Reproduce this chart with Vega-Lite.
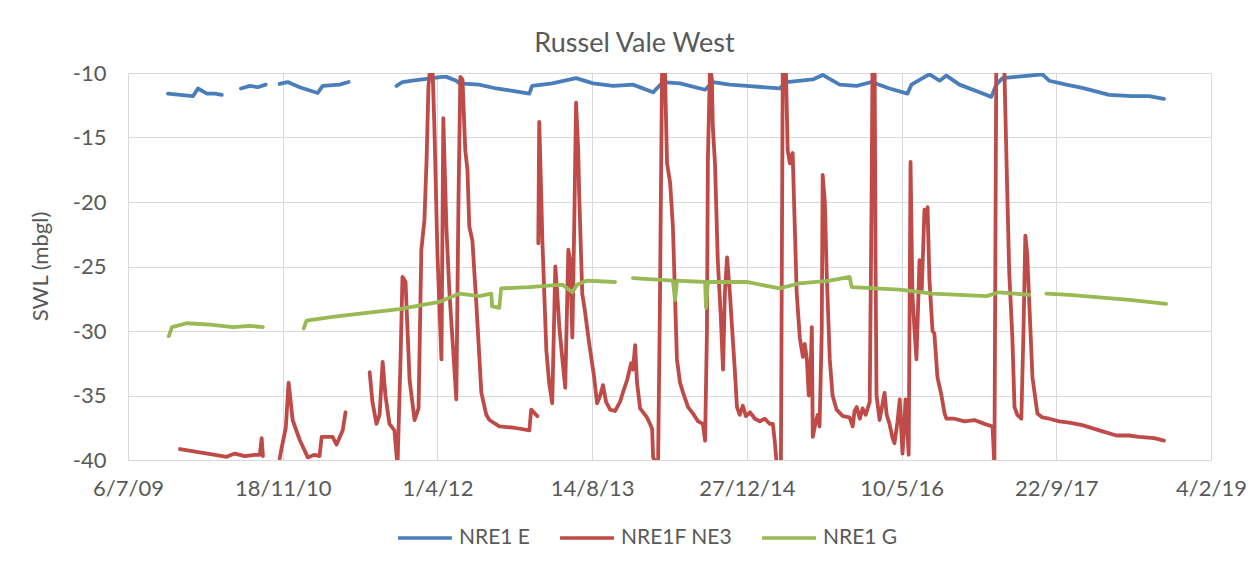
{
  "$schema": "https://vega.github.io/schema/vega-lite/v6.json",
  "width": 1083,
  "height": 387,
  "autosize": {"type": "none"},
  "padding": {"left": 128, "top": 73, "right": 43, "bottom": 117},
  "background": "white",
  "title": {"text": "Russel Vale West", "fontSize": 27, "fontWeight": "normal", "color": "#595959", "font": "Lato", "offset": 4, "dx": -35},
  "config": {
    "font": "Lato",
    "view": {"stroke": null},
    "axis": {"gridColor": "#D9D9D9", "gridWidth": 1, "domain": false, "ticks": false, "labelColor": "#595959", "labelFontSize": 22, "labelFont": "Lato", "titleFont": "Lato"}
  },
  "data": {"values": [
    {"date": "2009-11-12", "series": "NRE1 E", "swl": -11.6},
    {"date": "2009-12-21", "series": "NRE1 E", "swl": -11.7},
    {"date": "2010-02-01", "series": "NRE1 E", "swl": -11.8},
    {"date": "2010-02-17", "series": "NRE1 E", "swl": -11.2},
    {"date": "2010-03-18", "series": "NRE1 E", "swl": -11.6},
    {"date": "2010-04-13", "series": "NRE1 E", "swl": -11.6},
    {"date": "2010-05-05", "series": "NRE1 E", "swl": -11.7},
    {"date": "2010-06-01", "series": "NRE1 E", "swl": null},
    {"date": "2010-07-06", "series": "NRE1 E", "swl": -11.2},
    {"date": "2010-08-04", "series": "NRE1 E", "swl": -11.0},
    {"date": "2010-08-29", "series": "NRE1 E", "swl": -11.1},
    {"date": "2010-09-24", "series": "NRE1 E", "swl": -10.9},
    {"date": "2010-10-15", "series": "NRE1 E", "swl": null},
    {"date": "2010-11-08", "series": "NRE1 E", "swl": -10.85},
    {"date": "2010-12-04", "series": "NRE1 E", "swl": -10.7},
    {"date": "2011-01-12", "series": "NRE1 E", "swl": -11.1},
    {"date": "2011-03-11", "series": "NRE1 E", "swl": -11.55},
    {"date": "2011-03-27", "series": "NRE1 E", "swl": -11.0},
    {"date": "2011-05-21", "series": "NRE1 E", "swl": -10.9},
    {"date": "2011-06-19", "series": "NRE1 E", "swl": -10.7},
    {"date": "2011-09-01", "series": "NRE1 E", "swl": null},
    {"date": "2011-11-21", "series": "NRE1 E", "swl": -11.0},
    {"date": "2011-12-10", "series": "NRE1 E", "swl": -10.7},
    {"date": "2012-01-11", "series": "NRE1 E", "swl": -10.6},
    {"date": "2012-02-26", "series": "NRE1 E", "swl": -10.45},
    {"date": "2012-04-17", "series": "NRE1 E", "swl": -10.3},
    {"date": "2012-04-30", "series": "NRE1 E", "swl": -10.3},
    {"date": "2012-06-01", "series": "NRE1 E", "swl": -10.6},
    {"date": "2012-06-11", "series": "NRE1 E", "swl": -10.8},
    {"date": "2012-08-14", "series": "NRE1 E", "swl": -10.9},
    {"date": "2012-10-08", "series": "NRE1 E", "swl": -11.2},
    {"date": "2012-12-05", "series": "NRE1 E", "swl": -11.4},
    {"date": "2013-01-23", "series": "NRE1 E", "swl": -11.6},
    {"date": "2013-02-01", "series": "NRE1 E", "swl": -11.0},
    {"date": "2013-04-07", "series": "NRE1 E", "swl": -10.8},
    {"date": "2013-06-23", "series": "NRE1 E", "swl": -10.4},
    {"date": "2013-08-17", "series": "NRE1 E", "swl": -10.8},
    {"date": "2013-10-21", "series": "NRE1 E", "swl": -11.0},
    {"date": "2013-12-24", "series": "NRE1 E", "swl": -10.9},
    {"date": "2014-02-27", "series": "NRE1 E", "swl": -11.5},
    {"date": "2014-03-31", "series": "NRE1 E", "swl": -10.7},
    {"date": "2014-05-25", "series": "NRE1 E", "swl": -10.8},
    {"date": "2014-08-14", "series": "NRE1 E", "swl": -11.3},
    {"date": "2014-09-08", "series": "NRE1 E", "swl": -10.7},
    {"date": "2014-11-02", "series": "NRE1 E", "swl": -10.9},
    {"date": "2014-12-27", "series": "NRE1 E", "swl": -11.0},
    {"date": "2015-04-12", "series": "NRE1 E", "swl": -11.2},
    {"date": "2015-05-05", "series": "NRE1 E", "swl": -10.7},
    {"date": "2015-07-28", "series": "NRE1 E", "swl": -10.5},
    {"date": "2015-08-29", "series": "NRE1 E", "swl": -10.15},
    {"date": "2015-10-23", "series": "NRE1 E", "swl": -10.9},
    {"date": "2015-12-17", "series": "NRE1 E", "swl": -11.0},
    {"date": "2016-02-03", "series": "NRE1 E", "swl": -10.7},
    {"date": "2016-04-01", "series": "NRE1 E", "swl": -11.2},
    {"date": "2016-05-29", "series": "NRE1 E", "swl": -11.6},
    {"date": "2016-06-11", "series": "NRE1 E", "swl": -10.9},
    {"date": "2016-07-17", "series": "NRE1 E", "swl": -10.4},
    {"date": "2016-08-08", "series": "NRE1 E", "swl": -10.1},
    {"date": "2016-09-10", "series": "NRE1 E", "swl": -10.6},
    {"date": "2016-10-02", "series": "NRE1 E", "swl": -10.2},
    {"date": "2016-11-13", "series": "NRE1 E", "swl": -10.9},
    {"date": "2017-01-17", "series": "NRE1 E", "swl": -11.5},
    {"date": "2017-02-24", "series": "NRE1 E", "swl": -11.85},
    {"date": "2017-03-12", "series": "NRE1 E", "swl": -10.9},
    {"date": "2017-04-01", "series": "NRE1 E", "swl": -10.4},
    {"date": "2017-06-27", "series": "NRE1 E", "swl": -10.2},
    {"date": "2017-08-08", "series": "NRE1 E", "swl": -10.1},
    {"date": "2017-08-30", "series": "NRE1 E", "swl": -10.6},
    {"date": "2017-10-24", "series": "NRE1 E", "swl": -10.9},
    {"date": "2017-12-15", "series": "NRE1 E", "swl": -11.15},
    {"date": "2018-03-12", "series": "NRE1 E", "swl": -11.7},
    {"date": "2018-05-25", "series": "NRE1 E", "swl": -11.8},
    {"date": "2018-07-19", "series": "NRE1 E", "swl": -11.8},
    {"date": "2018-09-05", "series": "NRE1 E", "swl": -12.0},

    {"date": "2009-12-21", "series": "NRE1F NE3", "swl": -39.15},
    {"date": "2010-02-23", "series": "NRE1F NE3", "swl": -39.4},
    {"date": "2010-04-13", "series": "NRE1F NE3", "swl": -39.6},
    {"date": "2010-05-21", "series": "NRE1F NE3", "swl": -39.75},
    {"date": "2010-06-16", "series": "NRE1F NE3", "swl": -39.5},
    {"date": "2010-07-18", "series": "NRE1F NE3", "swl": -39.7},
    {"date": "2010-08-20", "series": "NRE1F NE3", "swl": -39.6},
    {"date": "2010-09-05", "series": "NRE1F NE3", "swl": -39.6},
    {"date": "2010-09-11", "series": "NRE1F NE3", "swl": -38.3},
    {"date": "2010-09-15", "series": "NRE1F NE3", "swl": -39.7},
    {"date": "2010-10-15", "series": "NRE1F NE3", "swl": null},
    {"date": "2010-11-08", "series": "NRE1F NE3", "swl": -39.9},
    {"date": "2010-11-15", "series": "NRE1F NE3", "swl": -39.0},
    {"date": "2010-11-28", "series": "NRE1F NE3", "swl": -37.5},
    {"date": "2010-12-07", "series": "NRE1F NE3", "swl": -34.0},
    {"date": "2010-12-14", "series": "NRE1F NE3", "swl": -35.5},
    {"date": "2010-12-20", "series": "NRE1F NE3", "swl": -36.9},
    {"date": "2011-01-12", "series": "NRE1F NE3", "swl": -38.45},
    {"date": "2011-02-07", "series": "NRE1F NE3", "swl": -39.8},
    {"date": "2011-03-01", "series": "NRE1F NE3", "swl": -39.6},
    {"date": "2011-03-17", "series": "NRE1F NE3", "swl": -39.7},
    {"date": "2011-03-24", "series": "NRE1F NE3", "swl": -38.2},
    {"date": "2011-04-28", "series": "NRE1F NE3", "swl": -38.2},
    {"date": "2011-05-11", "series": "NRE1F NE3", "swl": -38.8},
    {"date": "2011-05-31", "series": "NRE1F NE3", "swl": -37.7},
    {"date": "2011-06-09", "series": "NRE1F NE3", "swl": -36.3},
    {"date": "2011-07-15", "series": "NRE1F NE3", "swl": null},
    {"date": "2011-08-26", "series": "NRE1F NE3", "swl": -33.2},
    {"date": "2011-09-04", "series": "NRE1F NE3", "swl": -35.5},
    {"date": "2011-09-17", "series": "NRE1F NE3", "swl": -37.2},
    {"date": "2011-09-27", "series": "NRE1F NE3", "swl": -36.5},
    {"date": "2011-10-07", "series": "NRE1F NE3", "swl": -32.4},
    {"date": "2011-10-16", "series": "NRE1F NE3", "swl": -35.0},
    {"date": "2011-10-29", "series": "NRE1F NE3", "swl": -37.2},
    {"date": "2011-11-14", "series": "NRE1F NE3", "swl": -37.7},
    {"date": "2011-11-24", "series": "NRE1F NE3", "swl": -40.5},
    {"date": "2011-12-04", "series": "NRE1F NE3", "swl": -32.0},
    {"date": "2011-12-10", "series": "NRE1F NE3", "swl": -25.8},
    {"date": "2011-12-20", "series": "NRE1F NE3", "swl": -26.2},
    {"date": "2012-01-02", "series": "NRE1F NE3", "swl": -33.8},
    {"date": "2012-01-18", "series": "NRE1F NE3", "swl": -36.9},
    {"date": "2012-01-31", "series": "NRE1F NE3", "swl": -36.0},
    {"date": "2012-02-09", "series": "NRE1F NE3", "swl": -23.7},
    {"date": "2012-02-19", "series": "NRE1F NE3", "swl": -21.4},
    {"date": "2012-02-26", "series": "NRE1F NE3", "swl": -16.7},
    {"date": "2012-03-03", "series": "NRE1F NE3", "swl": -11.0},
    {"date": "2012-03-09", "series": "NRE1F NE3", "swl": -9.5},
    {"date": "2012-03-16", "series": "NRE1F NE3", "swl": -9.5},
    {"date": "2012-03-22", "series": "NRE1F NE3", "swl": -14.0},
    {"date": "2012-04-01", "series": "NRE1F NE3", "swl": -24.0},
    {"date": "2012-04-14", "series": "NRE1F NE3", "swl": -32.2},
    {"date": "2012-04-20", "series": "NRE1F NE3", "swl": -13.5},
    {"date": "2012-04-30", "series": "NRE1F NE3", "swl": -22.0},
    {"date": "2012-05-10", "series": "NRE1F NE3", "swl": -27.1},
    {"date": "2012-05-26", "series": "NRE1F NE3", "swl": -33.0},
    {"date": "2012-06-01", "series": "NRE1F NE3", "swl": -35.3},
    {"date": "2012-06-08", "series": "NRE1F NE3", "swl": -20.0},
    {"date": "2012-06-14", "series": "NRE1F NE3", "swl": -10.3},
    {"date": "2012-06-21", "series": "NRE1F NE3", "swl": -10.5},
    {"date": "2012-06-30", "series": "NRE1F NE3", "swl": -16.0},
    {"date": "2012-07-07", "series": "NRE1F NE3", "swl": -17.5},
    {"date": "2012-07-13", "series": "NRE1F NE3", "swl": -21.9},
    {"date": "2012-07-23", "series": "NRE1F NE3", "swl": -23.0},
    {"date": "2012-08-05", "series": "NRE1F NE3", "swl": -28.0},
    {"date": "2012-08-21", "series": "NRE1F NE3", "swl": -34.8},
    {"date": "2012-09-06", "series": "NRE1F NE3", "swl": -36.5},
    {"date": "2012-09-16", "series": "NRE1F NE3", "swl": -36.9},
    {"date": "2012-10-18", "series": "NRE1F NE3", "swl": -37.4},
    {"date": "2012-12-05", "series": "NRE1F NE3", "swl": -37.5},
    {"date": "2013-01-23", "series": "NRE1F NE3", "swl": -37.7},
    {"date": "2013-01-29", "series": "NRE1F NE3", "swl": -36.1},
    {"date": "2013-02-18", "series": "NRE1F NE3", "swl": -36.6},
    {"date": "2013-02-20", "series": "NRE1F NE3", "swl": null},
    {"date": "2013-02-21", "series": "NRE1F NE3", "swl": -23.2},
    {"date": "2013-02-24", "series": "NRE1F NE3", "swl": -13.8},
    {"date": "2013-03-02", "series": "NRE1F NE3", "swl": -19.0},
    {"date": "2013-03-06", "series": "NRE1F NE3", "swl": -22.9},
    {"date": "2013-03-19", "series": "NRE1F NE3", "swl": -31.5},
    {"date": "2013-03-28", "series": "NRE1F NE3", "swl": -34.0},
    {"date": "2013-04-07", "series": "NRE1F NE3", "swl": -35.6},
    {"date": "2013-04-17", "series": "NRE1F NE3", "swl": -25.0},
    {"date": "2013-04-23", "series": "NRE1F NE3", "swl": -27.0},
    {"date": "2013-04-30", "series": "NRE1F NE3", "swl": -29.7},
    {"date": "2013-05-09", "series": "NRE1F NE3", "swl": -32.0},
    {"date": "2013-05-19", "series": "NRE1F NE3", "swl": -34.4},
    {"date": "2013-05-25", "series": "NRE1F NE3", "swl": -28.0},
    {"date": "2013-05-29", "series": "NRE1F NE3", "swl": -23.7},
    {"date": "2013-06-04", "series": "NRE1F NE3", "swl": -24.5},
    {"date": "2013-06-11", "series": "NRE1F NE3", "swl": -30.5},
    {"date": "2013-06-17", "series": "NRE1F NE3", "swl": -22.0},
    {"date": "2013-06-23", "series": "NRE1F NE3", "swl": -12.3},
    {"date": "2013-06-30", "series": "NRE1F NE3", "swl": -16.0},
    {"date": "2013-07-03", "series": "NRE1F NE3", "swl": -19.3},
    {"date": "2013-07-13", "series": "NRE1F NE3", "swl": -27.1},
    {"date": "2013-07-22", "series": "NRE1F NE3", "swl": -28.5},
    {"date": "2013-08-04", "series": "NRE1F NE3", "swl": -30.9},
    {"date": "2013-08-20", "series": "NRE1F NE3", "swl": -33.5},
    {"date": "2013-08-30", "series": "NRE1F NE3", "swl": -35.6},
    {"date": "2013-09-09", "series": "NRE1F NE3", "swl": -35.0},
    {"date": "2013-09-18", "series": "NRE1F NE3", "swl": -34.2},
    {"date": "2013-09-28", "series": "NRE1F NE3", "swl": -35.5},
    {"date": "2013-10-11", "series": "NRE1F NE3", "swl": -36.1},
    {"date": "2013-10-27", "series": "NRE1F NE3", "swl": -36.2},
    {"date": "2013-11-12", "series": "NRE1F NE3", "swl": -35.5},
    {"date": "2013-11-25", "series": "NRE1F NE3", "swl": -34.5},
    {"date": "2013-12-05", "series": "NRE1F NE3", "swl": -33.8},
    {"date": "2013-12-18", "series": "NRE1F NE3", "swl": -32.5},
    {"date": "2013-12-24", "series": "NRE1F NE3", "swl": -33.0},
    {"date": "2013-12-31", "series": "NRE1F NE3", "swl": -31.1},
    {"date": "2014-01-06", "series": "NRE1F NE3", "swl": -34.0},
    {"date": "2014-01-16", "series": "NRE1F NE3", "swl": -36.0},
    {"date": "2014-02-07", "series": "NRE1F NE3", "swl": -36.7},
    {"date": "2014-02-17", "series": "NRE1F NE3", "swl": -37.2},
    {"date": "2014-02-24", "series": "NRE1F NE3", "swl": -37.6},
    {"date": "2014-02-27", "series": "NRE1F NE3", "swl": -39.8},
    {"date": "2014-03-15", "series": "NRE1F NE3", "swl": -40.5},
    {"date": "2014-03-21", "series": "NRE1F NE3", "swl": -28.0},
    {"date": "2014-03-28", "series": "NRE1F NE3", "swl": -9.5},
    {"date": "2014-04-06", "series": "NRE1F NE3", "swl": -9.5},
    {"date": "2014-04-13", "series": "NRE1F NE3", "swl": -17.0},
    {"date": "2014-04-23", "series": "NRE1F NE3", "swl": -18.5},
    {"date": "2014-05-02", "series": "NRE1F NE3", "swl": -21.9},
    {"date": "2014-05-15", "series": "NRE1F NE3", "swl": -32.2},
    {"date": "2014-05-25", "series": "NRE1F NE3", "swl": -34.0},
    {"date": "2014-06-04", "series": "NRE1F NE3", "swl": -34.8},
    {"date": "2014-06-20", "series": "NRE1F NE3", "swl": -35.9},
    {"date": "2014-07-06", "series": "NRE1F NE3", "swl": -36.4},
    {"date": "2014-07-22", "series": "NRE1F NE3", "swl": -37.0},
    {"date": "2014-08-07", "series": "NRE1F NE3", "swl": -37.2},
    {"date": "2014-08-14", "series": "NRE1F NE3", "swl": -38.5},
    {"date": "2014-08-20", "series": "NRE1F NE3", "swl": -30.0},
    {"date": "2014-08-23", "series": "NRE1F NE3", "swl": -16.7},
    {"date": "2014-08-30", "series": "NRE1F NE3", "swl": -9.5},
    {"date": "2014-09-05", "series": "NRE1F NE3", "swl": -10.5},
    {"date": "2014-09-08", "series": "NRE1F NE3", "swl": -14.2},
    {"date": "2014-09-15", "series": "NRE1F NE3", "swl": -17.0},
    {"date": "2014-09-24", "series": "NRE1F NE3", "swl": -24.5},
    {"date": "2014-10-04", "series": "NRE1F NE3", "swl": -29.0},
    {"date": "2014-10-11", "series": "NRE1F NE3", "swl": -33.0},
    {"date": "2014-10-17", "series": "NRE1F NE3", "swl": -27.0},
    {"date": "2014-10-24", "series": "NRE1F NE3", "swl": -24.3},
    {"date": "2014-11-02", "series": "NRE1F NE3", "swl": -27.0},
    {"date": "2014-11-09", "series": "NRE1F NE3", "swl": -29.7},
    {"date": "2014-11-18", "series": "NRE1F NE3", "swl": -33.0},
    {"date": "2014-11-25", "series": "NRE1F NE3", "swl": -35.9},
    {"date": "2014-12-04", "series": "NRE1F NE3", "swl": -36.5},
    {"date": "2014-12-14", "series": "NRE1F NE3", "swl": -35.8},
    {"date": "2014-12-24", "series": "NRE1F NE3", "swl": -36.6},
    {"date": "2015-01-06", "series": "NRE1F NE3", "swl": -36.3},
    {"date": "2015-01-22", "series": "NRE1F NE3", "swl": -36.8},
    {"date": "2015-02-07", "series": "NRE1F NE3", "swl": -37.0},
    {"date": "2015-02-23", "series": "NRE1F NE3", "swl": -36.8},
    {"date": "2015-03-11", "series": "NRE1F NE3", "swl": -37.2},
    {"date": "2015-03-21", "series": "NRE1F NE3", "swl": -37.2},
    {"date": "2015-03-27", "series": "NRE1F NE3", "swl": -38.5},
    {"date": "2015-04-03", "series": "NRE1F NE3", "swl": -40.5},
    {"date": "2015-04-16", "series": "NRE1F NE3", "swl": -40.5},
    {"date": "2015-04-19", "series": "NRE1F NE3", "swl": -25.0},
    {"date": "2015-04-22", "series": "NRE1F NE3", "swl": -9.5},
    {"date": "2015-05-02", "series": "NRE1F NE3", "swl": -9.5},
    {"date": "2015-05-08", "series": "NRE1F NE3", "swl": -16.0},
    {"date": "2015-05-15", "series": "NRE1F NE3", "swl": -17.0},
    {"date": "2015-05-24", "series": "NRE1F NE3", "swl": -16.2},
    {"date": "2015-05-31", "series": "NRE1F NE3", "swl": -22.0},
    {"date": "2015-06-06", "series": "NRE1F NE3", "swl": -27.0},
    {"date": "2015-06-16", "series": "NRE1F NE3", "swl": -30.5},
    {"date": "2015-06-26", "series": "NRE1F NE3", "swl": -32.0},
    {"date": "2015-07-02", "series": "NRE1F NE3", "swl": -31.0},
    {"date": "2015-07-09", "series": "NRE1F NE3", "swl": -32.2},
    {"date": "2015-07-15", "series": "NRE1F NE3", "swl": -35.0},
    {"date": "2015-07-21", "series": "NRE1F NE3", "swl": -33.0},
    {"date": "2015-07-25", "series": "NRE1F NE3", "swl": -29.7},
    {"date": "2015-07-28", "series": "NRE1F NE3", "swl": -38.2},
    {"date": "2015-08-07", "series": "NRE1F NE3", "swl": -37.0},
    {"date": "2015-08-13", "series": "NRE1F NE3", "swl": -36.5},
    {"date": "2015-08-19", "series": "NRE1F NE3", "swl": -37.4},
    {"date": "2015-08-26", "series": "NRE1F NE3", "swl": -30.0},
    {"date": "2015-08-29", "series": "NRE1F NE3", "swl": -17.9},
    {"date": "2015-09-05", "series": "NRE1F NE3", "swl": -20.0},
    {"date": "2015-09-11", "series": "NRE1F NE3", "swl": -25.5},
    {"date": "2015-09-21", "series": "NRE1F NE3", "swl": -32.2},
    {"date": "2015-09-30", "series": "NRE1F NE3", "swl": -35.0},
    {"date": "2015-10-13", "series": "NRE1F NE3", "swl": -36.1},
    {"date": "2015-11-02", "series": "NRE1F NE3", "swl": -36.6},
    {"date": "2015-11-24", "series": "NRE1F NE3", "swl": -36.7},
    {"date": "2015-12-04", "series": "NRE1F NE3", "swl": -37.4},
    {"date": "2015-12-10", "series": "NRE1F NE3", "swl": -36.2},
    {"date": "2015-12-17", "series": "NRE1F NE3", "swl": -35.9},
    {"date": "2015-12-27", "series": "NRE1F NE3", "swl": -36.8},
    {"date": "2016-01-05", "series": "NRE1F NE3", "swl": -36.0},
    {"date": "2016-01-15", "series": "NRE1F NE3", "swl": -36.5},
    {"date": "2016-01-28", "series": "NRE1F NE3", "swl": -35.5},
    {"date": "2016-02-03", "series": "NRE1F NE3", "swl": -20.0},
    {"date": "2016-02-06", "series": "NRE1F NE3", "swl": -9.5},
    {"date": "2016-02-13", "series": "NRE1F NE3", "swl": -9.5},
    {"date": "2016-02-16", "series": "NRE1F NE3", "swl": -25.0},
    {"date": "2016-02-19", "series": "NRE1F NE3", "swl": -35.0},
    {"date": "2016-02-29", "series": "NRE1F NE3", "swl": -36.9},
    {"date": "2016-03-16", "series": "NRE1F NE3", "swl": -34.8},
    {"date": "2016-03-23", "series": "NRE1F NE3", "swl": -36.5},
    {"date": "2016-04-01", "series": "NRE1F NE3", "swl": -37.2},
    {"date": "2016-04-11", "series": "NRE1F NE3", "swl": -38.3},
    {"date": "2016-04-17", "series": "NRE1F NE3", "swl": -38.7},
    {"date": "2016-04-27", "series": "NRE1F NE3", "swl": -37.0},
    {"date": "2016-05-04", "series": "NRE1F NE3", "swl": -35.3},
    {"date": "2016-05-13", "series": "NRE1F NE3", "swl": -39.5},
    {"date": "2016-05-23", "series": "NRE1F NE3", "swl": -35.3},
    {"date": "2016-06-02", "series": "NRE1F NE3", "swl": -39.6},
    {"date": "2016-06-08", "series": "NRE1F NE3", "swl": -16.9},
    {"date": "2016-06-14", "series": "NRE1F NE3", "swl": -27.1},
    {"date": "2016-06-21", "series": "NRE1F NE3", "swl": -30.0},
    {"date": "2016-06-27", "series": "NRE1F NE3", "swl": -32.2},
    {"date": "2016-07-07", "series": "NRE1F NE3", "swl": -24.5},
    {"date": "2016-07-14", "series": "NRE1F NE3", "swl": -27.0},
    {"date": "2016-07-23", "series": "NRE1F NE3", "swl": -20.6},
    {"date": "2016-07-30", "series": "NRE1F NE3", "swl": -21.5},
    {"date": "2016-08-02", "series": "NRE1F NE3", "swl": -20.4},
    {"date": "2016-08-08", "series": "NRE1F NE3", "swl": -26.0},
    {"date": "2016-08-18", "series": "NRE1F NE3", "swl": -30.0},
    {"date": "2016-08-24", "series": "NRE1F NE3", "swl": -30.2},
    {"date": "2016-09-03", "series": "NRE1F NE3", "swl": -33.6},
    {"date": "2016-09-16", "series": "NRE1F NE3", "swl": -35.0},
    {"date": "2016-09-26", "series": "NRE1F NE3", "swl": -36.4},
    {"date": "2016-10-02", "series": "NRE1F NE3", "swl": -36.8},
    {"date": "2016-10-28", "series": "NRE1F NE3", "swl": -36.8},
    {"date": "2016-11-29", "series": "NRE1F NE3", "swl": -37.0},
    {"date": "2016-12-31", "series": "NRE1F NE3", "swl": -36.9},
    {"date": "2017-02-02", "series": "NRE1F NE3", "swl": -37.2},
    {"date": "2017-02-28", "series": "NRE1F NE3", "swl": -37.4},
    {"date": "2017-03-06", "series": "NRE1F NE3", "swl": -40.5},
    {"date": "2017-03-12", "series": "NRE1F NE3", "swl": -9.5},
    {"date": "2017-04-01", "series": "NRE1F NE3", "swl": -9.5},
    {"date": "2017-04-07", "series": "NRE1F NE3", "swl": -9.5},
    {"date": "2017-04-14", "series": "NRE1F NE3", "swl": -16.7},
    {"date": "2017-04-23", "series": "NRE1F NE3", "swl": -25.5},
    {"date": "2017-05-03", "series": "NRE1F NE3", "swl": -30.5},
    {"date": "2017-05-10", "series": "NRE1F NE3", "swl": -35.9},
    {"date": "2017-05-19", "series": "NRE1F NE3", "swl": -36.5},
    {"date": "2017-06-01", "series": "NRE1F NE3", "swl": -36.8},
    {"date": "2017-06-08", "series": "NRE1F NE3", "swl": -30.0},
    {"date": "2017-06-14", "series": "NRE1F NE3", "swl": -22.6},
    {"date": "2017-06-20", "series": "NRE1F NE3", "swl": -24.0},
    {"date": "2017-06-27", "series": "NRE1F NE3", "swl": -28.0},
    {"date": "2017-07-07", "series": "NRE1F NE3", "swl": -33.6},
    {"date": "2017-07-23", "series": "NRE1F NE3", "swl": -36.4},
    {"date": "2017-08-08", "series": "NRE1F NE3", "swl": -36.7},
    {"date": "2017-08-30", "series": "NRE1F NE3", "swl": -36.8},
    {"date": "2017-10-02", "series": "NRE1F NE3", "swl": -37.0},
    {"date": "2017-11-03", "series": "NRE1F NE3", "swl": -37.1},
    {"date": "2017-12-15", "series": "NRE1F NE3", "swl": -37.3},
    {"date": "2018-02-08", "series": "NRE1F NE3", "swl": -37.7},
    {"date": "2018-04-04", "series": "NRE1F NE3", "swl": -38.1},
    {"date": "2018-05-15", "series": "NRE1F NE3", "swl": -38.1},
    {"date": "2018-06-17", "series": "NRE1F NE3", "swl": -38.2},
    {"date": "2018-08-04", "series": "NRE1F NE3", "swl": -38.3},
    {"date": "2018-09-05", "series": "NRE1F NE3", "swl": -38.5},

    {"date": "2009-11-15", "series": "NRE1 G", "swl": -30.4},
    {"date": "2009-11-25", "series": "NRE1 G", "swl": -29.7},
    {"date": "2010-01-12", "series": "NRE1 G", "swl": -29.4},
    {"date": "2010-03-28", "series": "NRE1 G", "swl": -29.5},
    {"date": "2010-06-10", "series": "NRE1 G", "swl": -29.7},
    {"date": "2010-08-04", "series": "NRE1 G", "swl": -29.6},
    {"date": "2010-09-15", "series": "NRE1 G", "swl": -29.7},
    {"date": "2010-11-01", "series": "NRE1 G", "swl": null},
    {"date": "2011-01-25", "series": "NRE1 G", "swl": -29.8},
    {"date": "2011-02-03", "series": "NRE1 G", "swl": -29.2},
    {"date": "2011-04-28", "series": "NRE1 G", "swl": -28.9},
    {"date": "2011-08-16", "series": "NRE1 G", "swl": -28.6},
    {"date": "2011-11-30", "series": "NRE1 G", "swl": -28.3},
    {"date": "2012-04-07", "series": "NRE1 G", "swl": -27.75},
    {"date": "2012-06-11", "series": "NRE1 G", "swl": -27.1},
    {"date": "2012-08-14", "series": "NRE1 G", "swl": -27.3},
    {"date": "2012-09-22", "series": "NRE1 G", "swl": -27.1},
    {"date": "2012-09-25", "series": "NRE1 G", "swl": -28.1},
    {"date": "2012-10-18", "series": "NRE1 G", "swl": -28.2},
    {"date": "2012-10-24", "series": "NRE1 G", "swl": -26.7},
    {"date": "2013-01-23", "series": "NRE1 G", "swl": -26.6},
    {"date": "2013-05-09", "series": "NRE1 G", "swl": -26.4},
    {"date": "2013-06-11", "series": "NRE1 G", "swl": -27.0},
    {"date": "2013-06-27", "series": "NRE1 G", "swl": -26.4},
    {"date": "2013-07-26", "series": "NRE1 G", "swl": -26.1},
    {"date": "2013-10-27", "series": "NRE1 G", "swl": -26.2},
    {"date": "2013-11-20", "series": "NRE1 G", "swl": null},
    {"date": "2013-12-24", "series": "NRE1 G", "swl": -25.9},
    {"date": "2014-05-02", "series": "NRE1 G", "swl": -26.1},
    {"date": "2014-05-09", "series": "NRE1 G", "swl": -27.6},
    {"date": "2014-05-15", "series": "NRE1 G", "swl": -26.1},
    {"date": "2014-08-14", "series": "NRE1 G", "swl": -26.2},
    {"date": "2014-08-17", "series": "NRE1 G", "swl": -28.2},
    {"date": "2014-08-23", "series": "NRE1 G", "swl": -26.2},
    {"date": "2014-12-27", "series": "NRE1 G", "swl": -26.2},
    {"date": "2015-04-12", "series": "NRE1 G", "swl": -26.7},
    {"date": "2015-06-16", "series": "NRE1 G", "swl": -26.3},
    {"date": "2015-09-21", "series": "NRE1 G", "swl": -26.1},
    {"date": "2015-11-24", "series": "NRE1 G", "swl": -25.8},
    {"date": "2015-12-01", "series": "NRE1 G", "swl": -26.6},
    {"date": "2016-05-04", "series": "NRE1 G", "swl": -26.8},
    {"date": "2016-08-18", "series": "NRE1 G", "swl": -27.1},
    {"date": "2017-02-08", "series": "NRE1 G", "swl": -27.3},
    {"date": "2017-03-22", "series": "NRE1 G", "swl": -27.0},
    {"date": "2017-06-27", "series": "NRE1 G", "swl": -27.2},
    {"date": "2017-07-25", "series": "NRE1 G", "swl": null},
    {"date": "2017-08-21", "series": "NRE1 G", "swl": -27.1},
    {"date": "2017-11-03", "series": "NRE1 G", "swl": -27.2},
    {"date": "2018-02-08", "series": "NRE1 G", "swl": -27.4},
    {"date": "2018-05-25", "series": "NRE1 G", "swl": -27.6},
    {"date": "2018-09-12", "series": "NRE1 G", "swl": -27.9}
  ]},
  "mark": {"type": "line", "strokeWidth": 3.8, "clip": true, "invalid": "break-paths-filter-domains", "strokeJoin": "round", "strokeCap": "round"},
  "encoding": {
    "x": {
      "field": "date", "type": "temporal",
      "scale": {"type": "utc", "domain": [{"year": 2009, "month": 7, "date": 6, "utc": true}, {"year": 2019, "month": 2, "date": 4, "utc": true}], "nice": false},
      "axis": {
        "title": null, "format": "%-d/%-m/%y", "labelPadding": 18, "labelFlush": false, "labelOverlap": false,
        "values": [
          {"year": 2009, "month": 7, "date": 6, "utc": true},
          {"year": 2010, "month": 11, "date": 18, "utc": true},
          {"year": 2012, "month": 4, "date": 1, "utc": true},
          {"year": 2013, "month": 8, "date": 14, "utc": true},
          {"year": 2014, "month": 12, "date": 27, "utc": true},
          {"year": 2016, "month": 5, "date": 10, "utc": true},
          {"year": 2017, "month": 9, "date": 22, "utc": true},
          {"year": 2019, "month": 2, "date": 4, "utc": true}
        ]
      }
    },
    "y": {
      "field": "swl", "type": "quantitative",
      "scale": {"domain": [-40, -10], "nice": false, "zero": false},
      "axis": {
        "title": "SWL (mbgl)", "values": [-40, -35, -30, -25, -20, -15, -10],
        "labelExpr": "'' + datum.value", "labelPadding": 22,
        "titleFontSize": 22, "titleFontWeight": "normal", "titleColor": "#595959",
        "titleX": -88, "titleY": 193, "titleAngle": -90, "titleAlign": "center", "titleBaseline": "middle"
      }
    },
    "color": {
      "field": "series", "type": "nominal",
      "scale": {"domain": ["NRE1 E", "NRE1F NE3", "NRE1 G"], "range": ["#4A7EBB", "#BE4B48", "#98B954"]},
      "legend": {
        "title": null, "orient": "none", "legendX": 268, "legendY": 436, "direction": "horizontal", "columns": 3,
        "symbolType": "stroke", "symbolSize": 2900, "symbolStrokeWidth": 3.5, "labelFontSize": 21, "labelColor": "#595959",
        "labelFont": "Lato", "columnPadding": 22, "labelOffset": 5
      }
    }
  }
}
